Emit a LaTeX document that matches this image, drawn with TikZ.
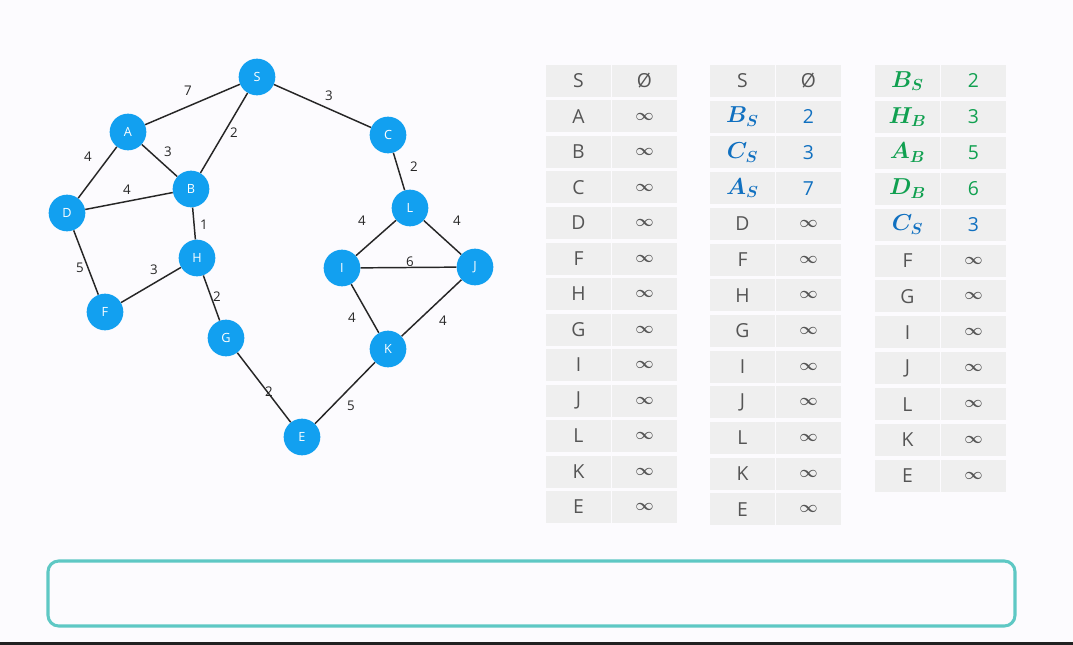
\documentclass[tikz,border=0pt]{standalone}
\usepackage{amsmath}
\usepackage{amssymb}
\usepackage{fontspec}
\setmainfont{Open Sans}
\usepackage{tikz}
\usetikzlibrary{positioning}

\definecolor{nodeblue}{HTML}{12A0F0}
\definecolor{tabblue}{HTML}{1070C0}
\definecolor{tabgreen}{HTML}{10A050}
\definecolor{cellgray}{HTML}{EFEFEF}
\definecolor{textgray}{HTML}{555555}
\definecolor{boxteal}{HTML}{5EC8C4}
\definecolor{pagebg}{HTML}{FCFBFE}

\newcommand{\sublabelsize}{\fontsize{17}{18}\selectfont}
\newcommand{\infsym}{{\fontsize{12.5}{13}\selectfont$\boldsymbol{\infty}$}}

\tikzset{
  vertex/.style={circle, fill=nodeblue, text=white, minimum size=27.5pt, inner sep=0pt,
    font=\fontsize{9.5}{10}\selectfont},
  weight/.style={font=\fontsize{10}{11}\selectfont, text=black!85, inner sep=1pt},
  edge/.style={line width=1.1pt, black!85},
  tabcell/.style={fill=cellgray, minimum width=48.5pt, minimum height=24pt, inner sep=0pt,
    text=textgray, font=\fontsize{14.5}{16}\selectfont}
}

\begin{document}
\begin{tikzpicture}[x=0.75pt, y=-0.75pt]
  \fill[pagebg] (0,0) rectangle (1073,645);
  \useasboundingbox (0,0) rectangle (1073,645);

  % graph
  \node[vertex] (S) at (257,77) {S};
  \node[vertex] (A) at (128,132) {A};
  \node[vertex] (C) at (388,135) {C};
  \node[vertex] (B) at (191,189) {B};
  \node[vertex] (D) at (67,213) {D};
  \node[vertex] (L) at (410,208) {L};
  \node[vertex] (H) at (197,258) {H};
  \node[vertex] (I) at (342,268) {I};
  \node[vertex] (J) at (475,267) {J};
  \node[vertex] (F) at (105,312) {F};
  \node[vertex] (G) at (226,338) {G};
  \node[vertex] (K) at (388,349) {K};
  \node[vertex] (E) at (302,437) {E};

  \draw[edge] (S) -- (A);
  \draw[edge] (S) -- (C);
  \draw[edge] (S) -- (B);
  \draw[edge] (A) -- (D);
  \draw[edge] (A) -- (B);
  \draw[edge] (D) -- (B);
  \draw[edge] (C) -- (L);
  \draw[edge] (B) -- (H);
  \draw[edge] (L) -- (I);
  \draw[edge] (L) -- (J);
  \draw[edge] (D) -- (F);
  \draw[edge] (F) -- (H);
  \draw[edge] (I) -- (J);
  \draw[edge] (H) -- (G);
  \draw[edge] (I) -- (K);
  \draw[edge] (J) -- (K);
  \draw[edge] (G) -- (E);
  \draw[edge] (K) -- (E);

  \node[weight] (wSA) at (188,91) {7};
  \node[weight] (wSC) at (329,96) {3};
  \node[weight] (wSB) at (234,133) {2};
  \node[weight] (wAD) at (88,157) {4};
  \node[weight] (wAB) at (168,152) {3};
  \node[weight] (wDB) at (127,190) {4};
  \node[weight] (wCL) at (414,167) {2};
  \node[weight] (wBH) at (204,225) {1};
  \node[weight] (wLI) at (362,221) {4};
  \node[weight] (wLJ) at (457,221) {4};
  \node[weight] (wDF) at (80,268) {5};
  \node[weight] (wFH) at (154,270) {3};
  \node[weight] (wIJ) at (410,262) {6};
  \node[weight] (wHG) at (217,297) {2};
  \node[weight] (wIK) at (352,318) {4};
  \node[weight] (wJK) at (443,321) {4};
  \node[weight] (wGE) at (269,392) {2};
  \node[weight] (wKE) at (351,406) {5};

  % first table
  \foreach \name/\val [count=\i from 0] in {S/Ø, A/\infsym, B/\infsym, C/\infsym, D/\infsym,
      F/\infsym, H/\infsym, G/\infsym, I/\infsym, J/\infsym, L/\infsym, K/\infsym, E/\infsym}{
    \node[tabcell] (ta\i) at (578.5,81+35.5*\i) {\name};
    \node[tabcell] (tb\i) at (644.5,81+35.5*\i) {\val};
  }

  % second table
  \foreach \name/\val [count=\i from 0] in {S/Ø,
      {\color{tabblue}\sublabelsize$\boldsymbol{B_S}$}/{\color{tabblue}2},
      {\color{tabblue}\sublabelsize$\boldsymbol{C_S}$}/{\color{tabblue}3},
      {\color{tabblue}\sublabelsize$\boldsymbol{A_S}$}/{\color{tabblue}7},
      D/\infsym, F/\infsym, H/\infsym, G/\infsym, I/\infsym, J/\infsym, L/\infsym, K/\infsym, E/\infsym}{
    \node[tabcell] (tc\i) at (742.5,81+35.7*\i) {\name};
    \node[tabcell] (td\i) at (808.5,81+35.7*\i) {\val};
  }

  % third table
  \foreach \name/\val [count=\i from 0] in {
      {\color{tabgreen}\sublabelsize$\boldsymbol{B_S}$}/{\color{tabgreen}2},
      {\color{tabgreen}\sublabelsize$\boldsymbol{H_B}$}/{\color{tabgreen}3},
      {\color{tabgreen}\sublabelsize$\boldsymbol{A_B}$}/{\color{tabgreen}5},
      {\color{tabgreen}\sublabelsize$\boldsymbol{D_B}$}/{\color{tabgreen}6},
      {\color{tabblue}\sublabelsize$\boldsymbol{C_S}$}/{\color{tabblue}3},
      F/\infsym, G/\infsym, I/\infsym, J/\infsym, L/\infsym, K/\infsym, E/\infsym}{
    \node[tabcell] (te\i) at (907.5,81+35.9*\i) {\name};
    \node[tabcell] (tf\i) at (973.5,81+35.9*\i) {\val};
  }

  \draw[boxteal, line width=2.3pt, rounded corners=8] (48,561) rectangle (1015,626);
  \fill[black!87] (0,642) rectangle (1073,645);
\end{tikzpicture}
\end{document}
